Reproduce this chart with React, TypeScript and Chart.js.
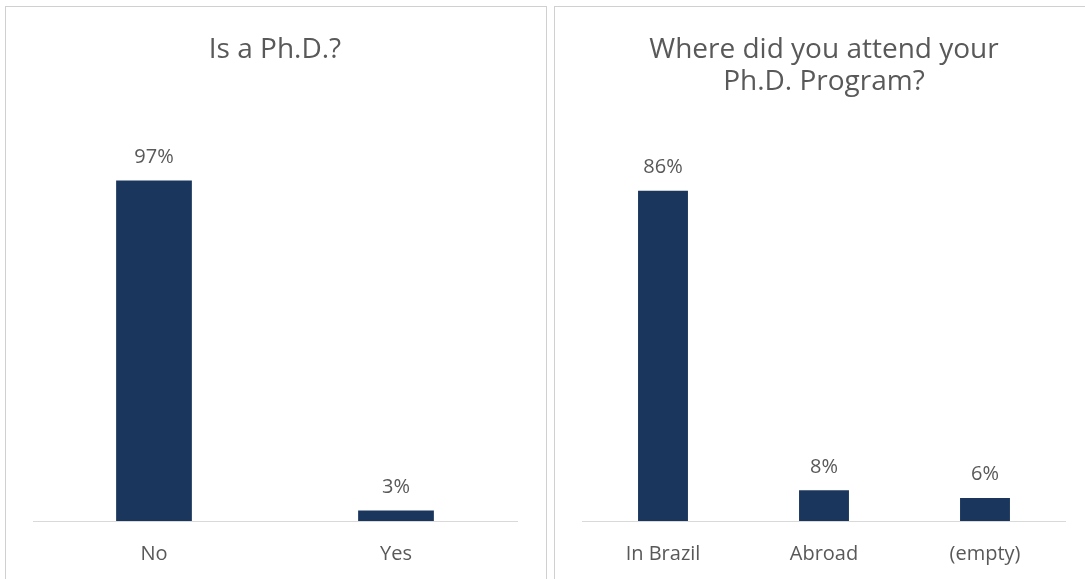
import React, { useEffect, useRef } from "react";
import { Chart, registerables } from "chart.js";

Chart.register(...registerables);

// ---- data ----
const phdTitle = ["Is a Ph.D.?"];
const phdCategories = ["No", "Yes"];
const phdValues = [97, 3];

const programTitle = ["Where did you attend your", "Ph.D. Program?"];
const programCategories = ["In Brazil", "Abroad", "(empty)"];
const programValues = [86, 8, 6];

// ---- styles ----
const FONT = "'Open Sans', 'Noto Sans', sans-serif";
const TEXT_COLOR = "#595959";
const BAR_COLOR = "#1a365d";
const AXIS_COLOR = "#d9d9d9";
const PANEL_BORDER = "#d0d0d0";

const valueLabels = {
  id: "valueLabels",
  afterDatasetsDraw(chart: any) {
    const ctx = chart.ctx;
    ctx.save();
    ctx.font = `20px ${FONT}`;
    ctx.fillStyle = TEXT_COLOR;
    ctx.textAlign = "center";
    ctx.textBaseline = "alphabetic";
    chart.data.datasets.forEach((ds: any, di: number) => {
      const meta = chart.getDatasetMeta(di);
      meta.data.forEach((bar: any, i: number) => {
        const v = ds.data[i] as number;
        ctx.fillText(`${Math.round(v)}%`, bar.x, bar.y - 17.5);
      });
    });
    ctx.restore();
  },
};

type PanelProps = {
  title: string[];
  labels: string[];
  values: number[];
  width: number;
  height: number;
  padLeft: number;
  padRight: number;
  padBottom: number;
  titleTop: number;
  titleBottom: number;
  titleLineHeight: number;
  barPct: number;
};

function BarPanel(p: PanelProps) {
  const ref = useRef<HTMLCanvasElement | null>(null);
  useEffect(() => {
    if (!ref.current) return;
    const chart = new Chart(ref.current, {
      type: "bar",
      data: {
        labels: p.labels,
        datasets: [
          {
            data: p.values,
            backgroundColor: BAR_COLOR,
            borderWidth: 0,
            barPercentage: p.barPct,
            categoryPercentage: 1,
          },
        ],
      },
      options: {
        responsive: false,
        animation: false,
        layout: {
          padding: { left: p.padLeft, right: p.padRight, top: 0, bottom: p.padBottom },
        },
        plugins: {
          legend: { display: false },
          tooltip: { enabled: false },
          title: {
            display: true,
            text: p.title,
            color: TEXT_COLOR,
            font: { family: FONT, size: 28, weight: "normal", lineHeight: p.titleLineHeight },
            padding: { top: p.titleTop, bottom: p.titleBottom },
          },
        },
        scales: {
          x: {
            grid: { display: false, drawTicks: false },
            border: { display: true, color: AXIS_COLOR, width: 1 },
            ticks: {
              color: TEXT_COLOR,
              font: { family: FONT, size: 20 },
              padding: 21,
              maxRotation: 0,
            },
          },
          y: {
            display: false,
            min: 0,
            max: 100,
          },
        },
      },
      plugins: [valueLabels],
    });
    return () => chart.destroy();
  }, []);
  return <canvas ref={ref} width={p.width} height={p.height} style={{ display: "block" }} />;
}

export default function App() {
  return (
    <div>
      <div
        style={{
          position: "absolute",
          left: 5,
          top: 6,
          width: 542,
          height: 573,
          overflow: "hidden",
          boxSizing: "border-box",
          borderLeft: `1px solid ${PANEL_BORDER}`,
          borderRight: `1px solid ${PANEL_BORDER}`,
          borderTop: `1px solid ${PANEL_BORDER}`,
          background: "#fff",
        }}
      >
        <BarPanel
          title={phdTitle}
          labels={phdCategories}
          values={phdValues}
          width={540}
          height={594}
          padLeft={27}
          padRight={29}
          padBottom={14}
          titleTop={26}
          titleBottom={103.4}
          titleLineHeight={1.2}
          barPct={0.313}
        />
      </div>
      <div
        style={{
          position: "absolute",
          left: 554,
          top: 6,
          width: 531,
          height: 573,
          overflow: "hidden",
          boxSizing: "border-box",
          borderLeft: `1px solid ${PANEL_BORDER}`,
          borderTop: `1px solid ${PANEL_BORDER}`,
          background: "#fff",
        }}
      >
        <BarPanel
          title={programTitle}
          labels={programCategories}
          values={programValues}
          width={530}
          height={594}
          padLeft={27.5}
          padRight={19.5}
          padBottom={14}
          titleTop={27.15}
          titleBottom={39.5}
          titleLineHeight={31.7 / 28}
          barPct={0.31}
        />
      </div>
    </div>
  );
}
